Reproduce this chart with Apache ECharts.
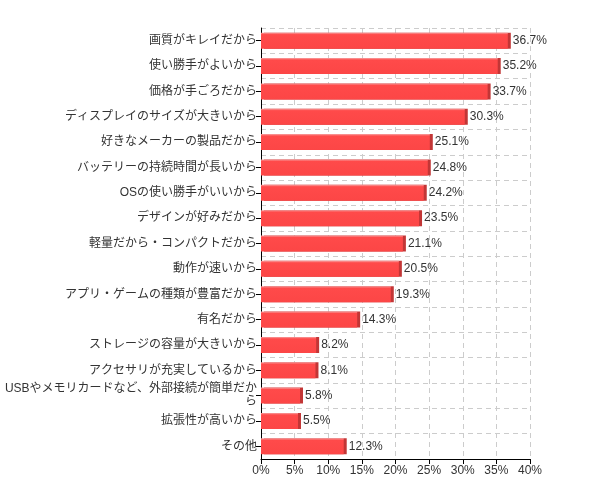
<!DOCTYPE html>
<html><head><meta charset="utf-8">
<script src="https://cdn.jsdelivr.net/npm/echarts@6/dist/echarts.min.js"></script>
<style>html,body{margin:0;padding:0;background:#fff}#c{width:598px;height:498px}</style>
</head><body><div id="c"></div>
<script>
const categories = ['画質がキレイだから','使い勝手がよいから','価格が手ごろだから','ディスプレイのサイズが大きいから','好きなメーカーの製品だから','バッテリーの持続時間が長いから','OSの使い勝手がいいから','デザインが好みだから','軽量だから・コンパクトだから','動作が速いから','アプリ・ゲームの種類が豊富だから','有名だから','ストレージの容量が大きいから','アクセサリが充実しているから','USBやメモリカードなど、外部接続が簡単だから','拡張性が高いから','その他'];
const values = [36.7,35.2,33.7,30.3,25.1,24.8,24.2,23.5,21.1,20.5,19.3,14.3,8.2,8.1,5.8,5.5,12.3];
const xTicks = [0,5,10,15,20,25,30,35,40];

const font = '"Liberation Sans", Arial, "Noto Sans CJK JP", sans-serif';
const chart = echarts.init(document.getElementById('c'));
chart.setOption({
  animation:false,
  textStyle:{fontFamily:font},
  grid:{left:260,right:68,top:28,bottom:39,containLabel:false},
  xAxis:{type:'value',min:xTicks[0],max:xTicks[xTicks.length-1],interval:5,
    axisLine:{show:true,lineStyle:{color:'#000',width:1}},
    axisTick:{show:true,length:5,lineStyle:{color:'#000'}},
    axisLabel:{formatter:'{value}%',color:'#333',fontSize:12,fontFamily:font,margin:6},
    splitLine:{show:true,lineStyle:{color:'#ccc',type:[5,4]}}},
  yAxis:{type:'category',data:categories,inverse:true,
    axisLine:{show:true,lineStyle:{color:'#000'}},
    axisTick:{show:true,alignWithLabel:true,length:5,lineStyle:{color:'#000'}},
    axisLabel:{color:'#333',fontSize:12,fontFamily:font,margin:4,width:254,overflow:'break',lineHeight:13},
    splitLine:{show:true,lineStyle:{color:'#ccc',type:[5,4]}}},
  series:[{type:'bar',data:values,barWidth:16,
    itemStyle:{color:new echarts.graphic.LinearGradient(0,0,0,1,[
      {offset:0,color:'#f7a0a0'},{offset:0.12,color:'#ff4a4a'},{offset:1,color:'#fc4646'}]),
      shadowColor:'#c23636',shadowOffsetX:3,shadowOffsetY:0,shadowBlur:0},
    label:{show:true,position:'right',distance:5,formatter:p=>p.value+'%',color:'#333',fontSize:12,fontFamily:font}}]
});
</script></body></html>
